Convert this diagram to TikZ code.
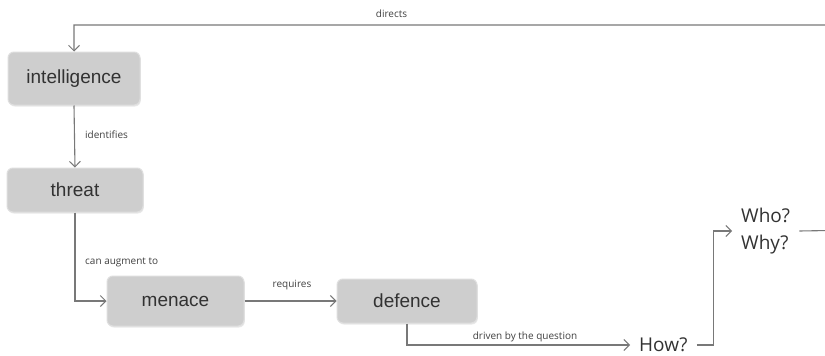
\documentclass[tikz,border=0pt]{standalone}
\usepackage{fontspec}
\setmainfont{Liberation Sans}
\newfontfamily\lblfont{Open Sans}
\usetikzlibrary{arrows.meta,shadows}
\definecolor{boxfill}{RGB}{206,206,206}
\definecolor{boxedge}{RGB}{222,222,222}
\definecolor{boxtext}{RGB}{50,50,50}
\definecolor{linecol}{RGB}{120,120,120}
\definecolor{lbltext}{RGB}{65,65,65}
\tikzset{
  conceptbox/.style={rectangle, rounded corners=6pt, fill=boxfill, draw=boxedge, line width=1pt,
    text=boxtext, font=\fontsize{19}{22}\selectfont, inner sep=0pt,
    drop shadow={opacity=0.18, shadow xshift=0.8pt, shadow yshift=-1.5pt}},
  link/.style={draw=linecol, line width=1.1pt},
  arr/.style={link, -{Straight Barb[length=5.5pt,width=11pt,line width=1pt]}},
  lbl/.style={text=lbltext, font=\lblfont\fontsize{10}{12}\selectfont, inner sep=0pt},
  question/.style={text=boxtext, font=\lblfont\fontsize{19}{27}\selectfont, inner xsep=9pt, inner ysep=0pt},
}
\begin{document}
\begin{tikzpicture}[x=1pt,y=-1pt]
\useasboundingbox (0,0) rectangle (825,356);
\clip (0,0) rectangle (825,356);
\fill[white] (0,0) rectangle (825,356);

\node[conceptbox, minimum width=132pt, minimum height=53pt] (intel) at (74,78.5) {intelligence};
\node[conceptbox, minimum width=136pt, minimum height=44pt] (threat) at (75,190) {threat};
\node[conceptbox, minimum width=137pt, minimum height=50pt] (menace) at (175.5,301) {menace};
\node[conceptbox, minimum width=140pt, minimum height=44pt] (defence) at (407,301) {defence};
\node[question, anchor=west] (how) at (630,345) {How?};
\node[question, anchor=west, align=left] (whowhy) at (732,231) {Who?\\Why?};

\coordinate (offR) at (860,230);
\coordinate (offT) at (860,25);

\draw[arr] (whowhy.east) -- (offR) -- (offT) -| (intel.north);
\draw[arr] (intel.south) -- (threat.north);
\draw[arr] (threat.south) |- (menace.west);
\draw[arr] (menace.east) -- (defence.west);
\draw[arr] (defence.south) |- (how.west);
\draw[arr] (how.east) -- ++(17,0) |- (whowhy.west);

\node[lbl] (ldirects) at (391.5,14) {directs};
\node[lbl, anchor=west] (lidentifies) at (85,135) {identifies};
\node[lbl, anchor=west] (laugment) at (85,262) {can augment to};
\node[lbl] (lrequires) at (292,285) {requires};
\node[lbl] (ldriven) at (525,337) {driven by the question};
\end{tikzpicture}
\end{document}
